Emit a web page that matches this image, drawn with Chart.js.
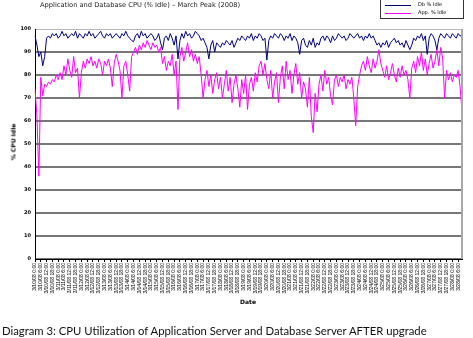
<!DOCTYPE html>
<html>
<head>
<meta charset="utf-8">
<script src="https://cdn.jsdelivr.net/npm/chart.js@4.4.1/dist/chart.umd.min.js"></script>
<style>
  html, body { margin: 0; padding: 0; background: #fff; }
  #wrap { position: relative; width: 473px; height: 338px; overflow: hidden; }
  #cpu { position: absolute; left: 0; top: 0; }
  .txt { position: absolute; white-space: nowrap; color: #000; }
  #title { left: 40px; top: 1px; font: 6.7px "DejaVu Sans", sans-serif; color: #222; }
  #legend { left: 380px; top: -1px; width: 82px; height: 18px; border: 1px solid #333; background: #fff; }
  .lg { position: absolute; left: 4px; width: 26px; height: 0; }
  .lgt { position: absolute; left: 37px; font: 5px "DejaVu Sans", sans-serif; }
  #ytitle { left: 13px; top: 142px; font: bold 6px "DejaVu Sans", sans-serif; transform: translate(-50%, -50%) rotate(-90deg); }
  #xtitle { left: 248px; top: 301px; font: bold 6px "DejaVu Sans", sans-serif; transform: translate(-50%, -50%); }
  #caption { left: 2px; top: 324px; font: 11.3px Lato, "Open Sans", sans-serif; color: #111; }
</style>
</head>
<body>
<div id="wrap">
  <canvas id="cpu" width="473" height="338"></canvas>
  <div id="title" class="txt">Application and Database CPU (% Idle) – March Peak (2008)</div>
  <div id="legend" class="txt">
    <div class="lg" style="top:5px;border-top:1px solid #000080;"></div>
    <div class="lg" style="top:13px;border-top:1px solid #ff00ff;"></div>
    <div class="lgt" style="top:1px;">Db % Idle</div>
    <div class="lgt" style="top:9px;">App. % Idle</div>
  </div>
  <div id="ytitle" class="txt">% CPU Idle</div>
  <div id="xtitle" class="txt">Date</div>
  <div id="caption" class="txt">Diagram 3: CPU Utilization of Application Server and Database Server AFTER upgrade</div>
</div>
<script>
// Sample days and the two-hourly readings within each day
const days = ['3/10/08','3/11/08','3/12/08','3/13/08','3/14/08','3/15/08','3/16/08','3/17/08','3/18/08','3/19/08',
              '3/20/08','3/21/08','3/22/08','3/23/08','3/24/08','3/25/08','3/26/08','3/27/08','3/28/08','3/29/08'];
const hours = ['0:00','2:00','4:00','6:00','8:00','10:00','12:00','14:00','16:00','18:00','20:00','22:00'];

// Database server CPU idle (%)
const dbIdle = [
  97, 93, 88, 90, 84, 88, 96, 97, 96, 98,
  97, 98, 96, 97, 99, 97, 98, 96, 97, 98,
  97, 99, 96, 98, 97, 96, 98, 97, 99, 97,
  98, 96, 97, 98, 99, 97, 96, 98, 97, 98,
  96, 97, 98, 97, 96, 98, 97, 99, 97, 96,
  95, 94.5, 97, 98, 96, 99, 97, 98, 96, 97,
  98, 97, 95, 96, 98, 94, 91, 96, 97, 95,
  98, 96, 93, 97, 87, 95, 98, 96, 99, 97,
  98, 96, 97, 99, 98, 97, 95, 96, 94, 92,
  87, 93, 95, 90, 94, 93, 92, 94, 93, 95,
  94, 93, 95, 92, 94, 96, 95, 97, 96, 95,
  97, 96, 98, 95, 97, 96, 98, 97, 95, 96,
  86.5, 95, 97, 96, 98, 97, 96, 98, 97, 95,
  97, 96, 98, 95, 97, 96, 94, 89, 95, 96,
  93, 92, 95, 93, 96, 92, 94, 93, 96, 97,
  95, 97, 96, 94, 97, 95, 96, 98, 97, 96,
  97, 95, 96, 98, 97, 96, 97, 98, 96, 97,
  95, 97, 96, 98, 96, 97, 95, 93, 94, 92,
  94, 93, 95, 92, 94, 95, 96, 94, 95, 93,
  94, 92, 95, 93, 91, 93, 96, 95, 97, 96,
  98, 95, 97, 89, 96, 98, 97, 95, 91, 96,
  98, 97, 96, 98, 97, 96, 98, 97, 96, 98,
  97, 97
];

// Application server CPU idle (%)
const appIdle = [
  74, 62, 36, 79, 71, 76, 75, 77, 76, 78,
  77, 80, 78, 81, 78, 84, 80, 87, 82, 79,
  88, 81, 83, 70, 81, 86, 83, 87, 85, 88,
  84, 86, 83, 87, 85, 80, 86, 84, 87, 83,
  75, 85, 89, 86, 82, 70, 84, 86, 80, 73,
  88, 90, 92, 89, 93, 91, 94, 92, 95, 93,
  91, 94, 92, 93, 90, 92, 85, 88, 82, 86,
  84, 89, 80, 86, 65, 88, 92, 86, 90, 94,
  88, 91, 86, 89, 85, 88, 80, 70, 78, 82,
  75, 80, 72, 78, 81, 74, 79, 70, 76, 82,
  73, 79, 68, 76, 80, 74, 66, 78, 72, 80,
  65, 76, 79, 73, 81, 77, 84, 86, 80, 85,
  78, 74, 82, 70, 77, 81, 68, 79, 84, 74,
  86, 78, 82, 72, 80, 85, 76, 81, 70, 77,
  74, 66, 79, 62, 55, 72, 64, 76, 80, 73,
  82, 76, 79, 71, 67, 78, 80, 75, 79, 77,
  80, 74, 78, 76, 79, 70, 58, 75, 80, 84,
  86, 82, 88, 84, 81, 87, 83, 86, 91, 85,
  82, 79, 84, 78, 81, 85, 80, 77, 83, 79,
  84, 80, 82, 78, 70, 83, 86, 81, 88, 84,
  90, 82, 87, 80, 85, 89, 83, 86, 91, 84,
  92, 87, 70, 82, 78, 81, 77, 80, 79, 82,
  75, 64
];

// Category labels: one per reading, a tick label every third reading
const labels = [];
for (const d of days) for (const h of hours) labels.push(d + ' ' + h);
labels.length = appIdle.length;
const labelEvery = 3;

// Right-hand frame of the plot area
const frame = {
  id: 'frame',
  afterDraw(chart) {
    const { ctx, chartArea: a } = chart;
    ctx.save();
    ctx.strokeStyle = '#a8a8a8';
    ctx.lineWidth = 2;
    ctx.beginPath();
    ctx.moveTo(a.right, a.top);
    ctx.lineTo(a.right, a.bottom);
    ctx.stroke();
    ctx.restore();
  }
};

new Chart(document.getElementById('cpu'), {
  type: 'line',
  data: {
    labels,
    datasets: [
      { label: 'Db % Idle', data: dbIdle, borderColor: '#000080', borderWidth: 1,
        pointRadius: 0, tension: 0, order: 1 },
      { label: 'App. % Idle', data: appIdle, borderColor: '#ff00ff', borderWidth: 1,
        pointRadius: 0, tension: 0, order: 2 }
    ]
  },
  options: {
    responsive: false,
    animation: false,
    devicePixelRatio: 1,
    layout: { padding: { top: 29, right: 11, left: 0, bottom: 0 } },
    plugins: { legend: { display: false }, title: { display: false }, tooltip: { enabled: false } },
    scales: {
      x: {
        offset: false,
        afterFit: s => { s.height = 79; },
        border: { color: '#000', width: 1 },
        grid: { drawOnChartArea: false, color: '#000', tickLength: 3 },
        ticks: {
          autoSkip: false, minRotation: 90, maxRotation: 90, padding: 1,
          color: '#000', font: { family: 'Liberation Sans', size: 5 },
          callback: function (v, i) { return i % labelEvery === 0 ? this.getLabelForValue(v) : null; }
        }
      },
      y: {
        min: 0, max: 100,
        afterFit: s => { s.width = 35; },
        border: { color: '#000', width: 1 },
        grid: {
          drawTicks: false,
          color: c => (c.tick.value === 100 ? '#b8b8b8' : '#777777'),
          lineWidth: c => (c.tick.value === 100 ? 1 : 2)
        },
        ticks: { stepSize: 10, padding: 4, color: '#000', font: { family: 'DejaVu Sans', size: 5, weight: 'bold' } }
      }
    }
  },
  plugins: [frame]
});
</script>
</body>
</html>
